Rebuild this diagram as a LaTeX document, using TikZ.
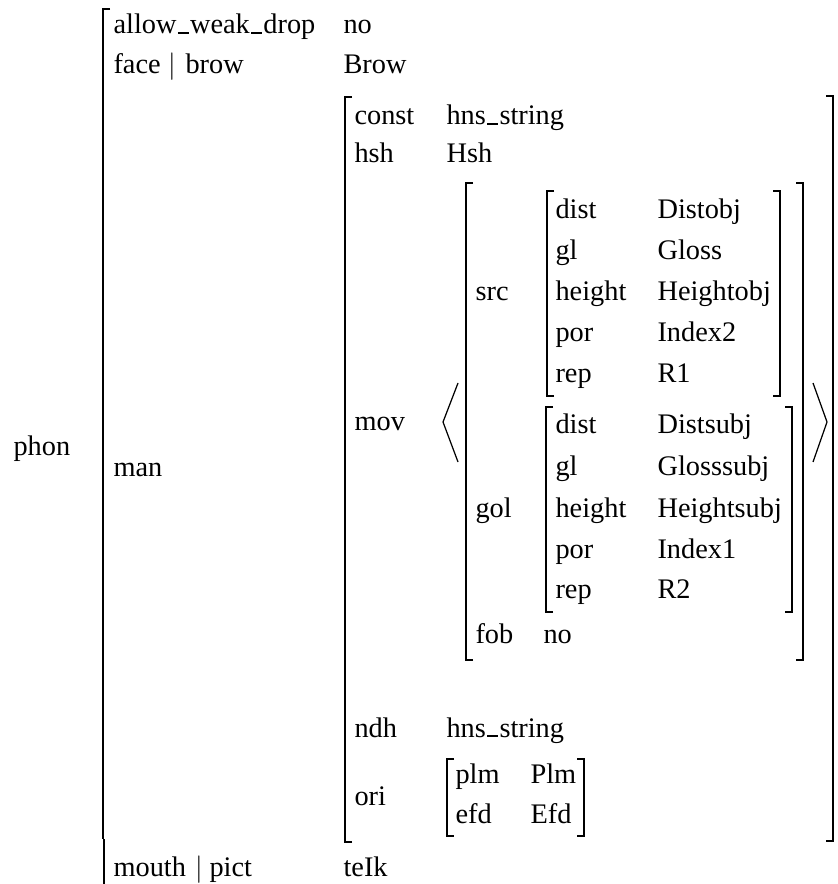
\documentclass[tikz,border=0pt]{standalone}
\usepackage{fontspec}
\setmainfont{Liberation Serif}
\newcommand\us{\kern.05em\rule[0pt]{.38em}{.8pt}\kern.05em}
\newcommand\avmL[3]{%
  \draw[ext] (#1,#2) -- (#1,#3);
  \draw[piece] (#1+7,#2) -- (#1,#2) -- (#1,#2+46);
  \draw[piece] (#1+7,#3) -- (#1,#3) -- (#1,#3-46);}
\newcommand\avmR[3]{%
  \draw[ext] (#1,#2) -- (#1,#3);
  \draw[piece] (#1-7,#2) -- (#1,#2) -- (#1,#2+46);
  \draw[piece] (#1-7,#3) -- (#1,#3) -- (#1,#3-46);}
\begin{document}
\begin{tikzpicture}[x=0.3636pt,y=-0.3636pt,
  t/.style={anchor=base west,inner sep=0pt,font=\fontsize{10.3}{12}\selectfont},
  ext/.style={line width=0.45pt},
  piece/.style={line width=0.7pt},
  ang/.style={line width=0.45pt}]
\useasboundingbox (0,0) rectangle (837,884);
% outer level
\node[t] (phon) at (13,455) {phon};
\node[t] (awd) at (113,34) {allow\us weak\us drop};
\node[t] (awdv) at (343,34) {no};
\node[t] (face) at (113,74) {face};
\node[t,anchor=base] (fbar) at (172,74) {$|$};
\node[t] (brow) at (185,74) {brow};
\node[t] (browv) at (343,74) {Brow};
\node[t] (man) at (113,476) {man};
\node[t] (mouth) at (113,876) {mouth};
\node[t,anchor=base] (mbar) at (199,876) {$|$};
\node[t] (pict) at (209,876) {pict};
\node[t] (teik) at (343,876) {teIk};
% outer bracket (cut by the frame at the bottom)
\draw[ext] (103,9) -- (103,839);
\draw[piece] (110,9) -- (103,9) -- (103,55);
\draw[piece] (104,839) -- (104,884);
% man
\node[t] (const) at (354,125) {const};
\node[t] (constv) at (446,125) {hns\us string};
\node[t] (hsh) at (354,163) {hsh};
\node[t] (hshv) at (446,163) {Hsh};
\node[t] (mov) at (354,430) {mov};
\node[t] (ndh) at (354,737) {ndh};
\node[t] (ndhv) at (446,737) {hns\us string};
\node[t] (ori) at (354,805) {ori};
\avmL{345}{97}{842}
\avmR{833}{96}{841}
% mov list
\draw[ang] (458,383) -- (443,422) -- (458,462);
\draw[ang] (813,383) -- (827,422) -- (813,462);
\avmL{466}{183}{660}
\avmR{803}{183}{660}
\node[t] (src) at (475,301) {src};
\node[t] (gol) at (475,517) {gol};
\node[t] (fob) at (475,643) {fob};
\node[t] (fobv) at (543,643) {no};
% src
\avmL{547}{191}{396}
\avmR{780}{191}{396}
\node[t] (sdist) at (555,219) {dist};
\node[t] (sdistv) at (657,219) {Distobj};
\node[t] (sgl) at (555,260) {gl};
\node[t] (sglv) at (657,260) {Gloss};
\node[t] (sheight) at (555,301) {height};
\node[t] (sheightv) at (657,301) {Heightobj};
\node[t] (spor) at (555,342) {por};
\node[t] (sporv) at (657,342) {Index2};
\node[t] (srep) at (555,382) {rep};
\node[t] (srepv) at (657,382) {R1};
% gol
\avmL{546}{407}{612}
\avmR{792}{407}{612}
\node[t] (gdist) at (555,433) {dist};
\node[t] (gdistv) at (657,433) {Distsubj};
\node[t] (ggl) at (555,475) {gl};
\node[t] (gglv) at (657,475) {Glosssubj};
\node[t] (gheight) at (555,517) {height};
\node[t] (gheightv) at (657,517) {Heightsubj};
\node[t] (gpor) at (555,558) {por};
\node[t] (gporv) at (657,558) {Index1};
\node[t] (grep) at (555,598) {rep};
\node[t] (grepv) at (657,598) {R2};
% ori
\draw[piece] (454,759) -- (447,759) -- (447,836) -- (454,836);
\draw[piece] (577,759) -- (584,759) -- (584,836) -- (577,836);
\node[t] (plm) at (455,783) {plm};
\node[t] (plmv) at (530,783) {Plm};
\node[t] (efd) at (455,823) {efd};
\node[t] (efdv) at (530,823) {Efd};
\end{tikzpicture}
\end{document}
